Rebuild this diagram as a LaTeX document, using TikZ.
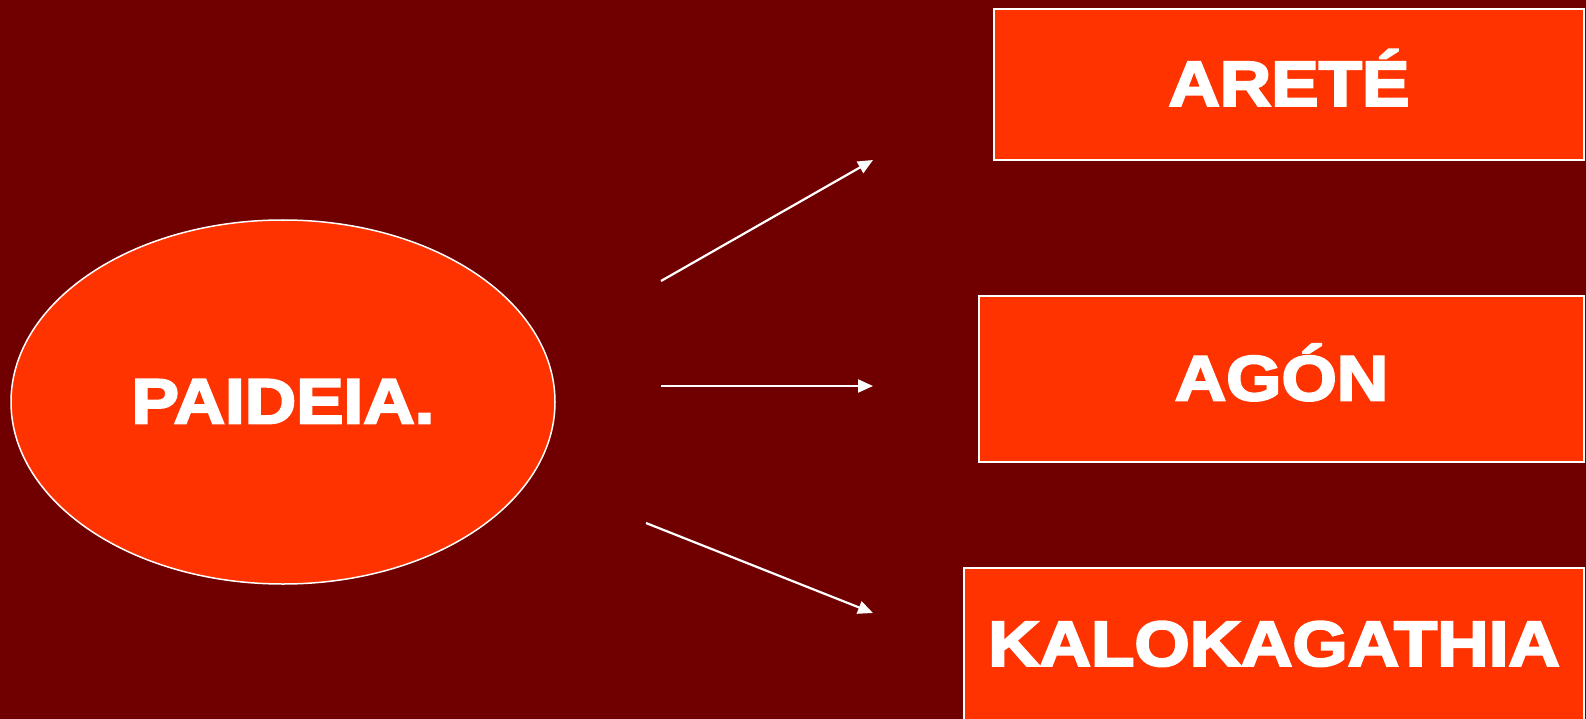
\documentclass[tikz,border=0pt]{standalone}
\usepackage{fontspec}
\setmainfont{Liberation Sans}[FakeStretch=1.12, BoldFeatures={FakeBold=3.5}]
\usetikzlibrary{shapes.geometric,arrows.meta}
\definecolor{bgred}{HTML}{700000}
\definecolor{boxorange}{HTML}{FF3300}
\tikzset{
  shapebase/.style={fill=boxorange, draw=white, line width=1.5pt, inner sep=0pt,
    text=white, font=\fontsize{63.5}{70}\selectfont\bfseries,
    text height=42.5pt, text depth=0pt},
  termbox/.style={shapebase, rectangle},
  mainoval/.style={shapebase, ellipse},
  link/.style={draw=white, line width=2.2pt, -{Triangle[length=15pt,width=13pt]}}
}
\begin{document}
\begin{tikzpicture}[x=1pt,y=-1pt]
\useasboundingbox (0,0) rectangle (1586,719);
\fill[bgred] (0,0) rectangle (1586,719);
\node[mainoval, minimum width=544pt, minimum height=364pt] (paideia) at (283,402) {PAIDEIA.};
\node[termbox, minimum width=590pt, minimum height=151pt] (arete) at (1289,84.5) {ARETÉ};
\node[termbox, minimum width=605pt, minimum height=166pt] (agon) at (1281.5,379) {AGÓN};
\node[termbox, minimum width=620pt, minimum height=153pt] (kalo) at (1274,644.5) {KALOKAGATHIA};
\coordinate (s1) at (661,281);
\coordinate (e1) at (873,160);
\coordinate (s2) at (661,386);
\coordinate (e2) at (873,386);
\coordinate (s3) at (646,523);
\coordinate (e3) at (873,613);
\draw[link] (s1) -- (e1);
\draw[link] (s2) -- (e2);
\draw[link] (s3) -- (e3);
\end{tikzpicture}
\end{document}
